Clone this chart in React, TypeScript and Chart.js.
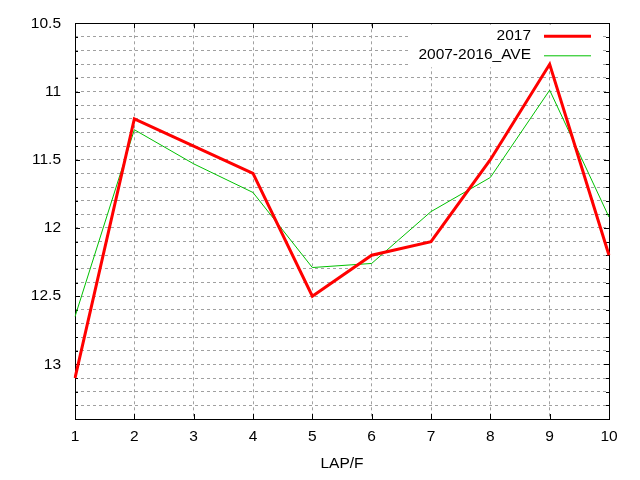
import React, { useEffect, useRef } from 'react';
import { Chart, registerables } from 'chart.js';

Chart.register(...registerables);

const laps = ['1', '2', '3', '4', '5', '6', '7', '8', '9', '10'];
const series2017 = [13.1, 11.2, 11.4, 11.6, 12.5, 12.2, 12.1, 11.5, 10.8, 12.2];
const seriesAve = [12.65, 11.28, 11.53, 11.74, 12.29, 12.26, 11.88, 11.63, 10.99, 11.92];
const seriesLabels = ['2017', '2007-2016_AVE'];
const seriesColors = ['#ff0000', '#00c000'];
const seriesWidths = [3, 1];
const yMin = 10.5;
const yMax = 13.4;
const yStep = 0.1;
const yLabelStep = 0.5;
const xTitle = 'LAP/F';

const FONT = '"Liberation Sans", Arial, sans-serif';
const FONT_SIZE = 15.5;

const isMajor = (v: number) => Math.abs(v / yLabelStep - Math.round(v / yLabelStep)) < 1e-6;

const framePlugin = {
  id: 'gnuFrame',
  beforeDatasetsDraw(chart: any) {
    const { ctx, chartArea } = chart;
    const { left, right, top, bottom } = chartArea;
    const xs = chart.scales.x;
    const ys = chart.scales.y;
    ctx.save();
    ctx.strokeStyle = '#000000';
    ctx.lineWidth = 1;
    ctx.setLineDash([]);
    // frame
    ctx.strokeRect(Math.round(left) + 0.5, Math.round(top) + 0.5, Math.round(right - left), Math.round(bottom - top));
    // x ticks (bottom + mirrored top)
    ctx.beginPath();
    xs.ticks.forEach((t: any, i: number) => {
      const px = Math.round(xs.getPixelForTick(i)) + 0.5;
      ctx.moveTo(px, bottom);
      ctx.lineTo(px, bottom - 5);
      ctx.moveTo(px, top);
      ctx.lineTo(px, top + 5);
    });
    // y ticks (left + mirrored right)
    ys.ticks.forEach((t: any) => {
      const py = Math.round(ys.getPixelForValue(t.value)) + 0.5;
      const len = isMajor(t.value) ? 5 : 3;
      ctx.moveTo(left, py);
      ctx.lineTo(left + len, py);
      ctx.moveTo(right, py);
      ctx.lineTo(right - len, py);
    });
    ctx.stroke();

    // key (gnuplot style, top right inside)
    const boxL = 408;
    const boxR = right - 9;
    const boxT = top + 1;
    const boxB = top + 44;
    ctx.fillStyle = '#ffffff';
    ctx.fillRect(boxL, boxT, boxR - boxL, boxB - boxT);
    ctx.font = `${FONT_SIZE}px ${FONT}`;
    ctx.textAlign = 'right';
    ctx.textBaseline = 'middle';
    const rowY = [top + 13, top + 32.5];
    const textRight = right - 78;
    const sampleL = right - 65;
    const sampleR = right - 18;
    chart.data.datasets.forEach((ds: any, i: number) => {
      const y = rowY[i];
      ctx.fillStyle = '#000000';
      ctx.fillText(ds.label, textRight, y - 1);
      ctx.strokeStyle = ds.borderColor;
      ctx.lineWidth = ds.borderWidth;
      ctx.beginPath();
      ctx.moveTo(sampleL, y);
      ctx.lineTo(sampleR, y);
      ctx.stroke();
    });
    ctx.restore();
  },
};

export default function App() {
  const canvasRef = useRef<HTMLCanvasElement | null>(null);

  useEffect(() => {
    document.body.style.margin = '0';
    const canvas = canvasRef.current;
    if (!canvas) return;
    const chart = new Chart(canvas, {
      type: 'line',
      data: {
        labels: laps,
        datasets: [
          {
            label: seriesLabels[0],
            data: series2017,
            borderColor: seriesColors[0],
            backgroundColor: seriesColors[0],
            borderWidth: seriesWidths[0],
            pointRadius: 0,
            tension: 0,
            fill: false,
            order: 0,
          },
          {
            label: seriesLabels[1],
            data: seriesAve,
            borderColor: seriesColors[1],
            backgroundColor: seriesColors[1],
            borderWidth: seriesWidths[1],
            pointRadius: 0,
            tension: 0,
            fill: false,
            order: 1,
          },
        ],
      },
      options: {
        responsive: false,
        animation: false,
        devicePixelRatio: 1,
        layout: { padding: { top: 20, right: 31, left: 0, bottom: 0 } },
        plugins: {
          legend: { display: false },
          tooltip: { enabled: false },
        },
        elements: { line: { borderJoinStyle: 'miter', borderCapStyle: 'butt' } },
        scales: {
          x: {
            type: 'category',
            offset: false,
            grid: { color: '#a0a0a0', lineWidth: 1, drawTicks: false },
            border: { display: false, dash: [3, 3] },
            ticks: {
              color: '#000000',
              padding: 8,
              maxRotation: 0,
              autoSkip: false,
              font: { family: FONT, size: FONT_SIZE },
            },
            title: {
              display: true,
              text: xTitle,
              color: '#000000',
              font: { family: FONT, size: FONT_SIZE },
              padding: { top: 0, bottom: 7 },
            },
            afterFit(scale: any) {
              scale.height = 61;
            },
          },
          y: {
            type: 'linear',
            reverse: true,
            min: yMin,
            max: yMax,
            grid: { color: '#a0a0a0', lineWidth: 1, drawTicks: false },
            border: { display: false, dash: [3, 3] },
            ticks: {
              stepSize: yStep,
              color: '#000000',
              padding: 14,
              autoSkip: false,
              font: { family: FONT, size: FONT_SIZE },
              callback: (v: any) => (isMajor(Number(v)) ? String(Math.round(Number(v) * 10) / 10) : ''),
            },
            afterFit(scale: any) {
              scale.width = 75;
            },
          },
        },
      },
      plugins: [framePlugin],
    });
    return () => chart.destroy();
  }, []);

  return (
    <div style={{ position: 'fixed', left: 0, top: 0, width: 640, height: 480, background: '#ffffff' }}>
      <canvas ref={canvasRef} width={640} height={480} style={{ width: 640, height: 480 }} />
    </div>
  );
}
